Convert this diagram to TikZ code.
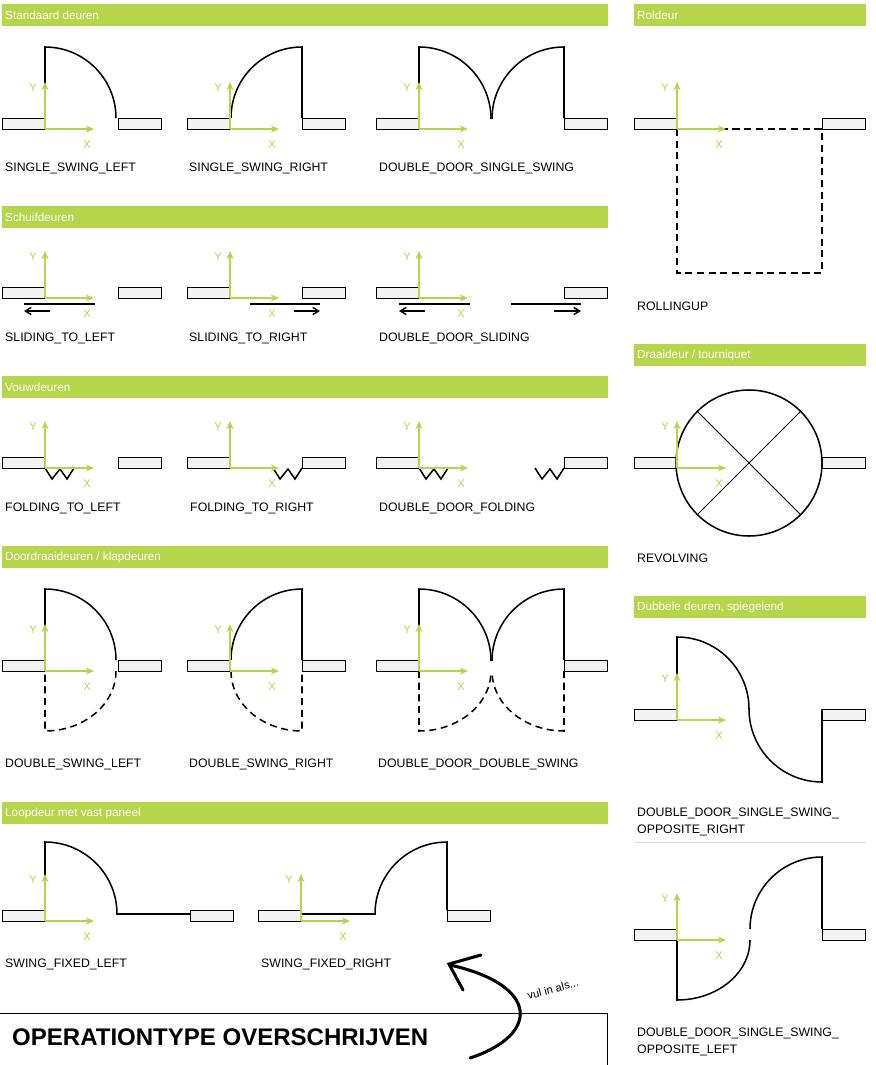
\documentclass[tikz,border=0pt]{standalone}
\usepackage{fontspec}
\setmainfont{Liberation Sans}
\usetikzlibrary{arrows.meta}
\definecolor{limegreen}{HTML}{B5D64A}
\definecolor{wallgrey}{HTML}{F2F2F2}
\tikzset{
  wall/.style={draw=black,fill=wallgrey,line width=0.8pt},
  door/.style={draw=black,line width=1.3pt},
  swing/.style={door,dash pattern=on 6pt off 4pt},
  axis/.style={draw=limegreen,line width=1.7pt,-{Stealth[length=7pt,width=6pt]}},
  axlabel/.style={text=limegreen,font=\fontsize{9.5}{10}\selectfont},
  header/.style={fill=limegreen},
  headtext/.style={anchor=west,text=white,font=\fontsize{10}{11}\selectfont,inner sep=0pt},
  type label/.style={anchor=west,font=\fontsize{10.5}{12.5}\selectfont,inner sep=0pt,align=left},
  move/.style={draw=black,line width=1.2pt,-{Straight Barb[length=5pt,width=6pt]}}
}
% wall piece from x1 to x2 with top y
\newcommand{\wallpiece}[3]{\draw[wall] (#1,#3) rectangle (#2,#3+11);}
% coordinate axes at origin
\newcommand{\axes}[2]{%
  \draw[axis] (#1,#2) -- (#1,#2-47);
  \draw[axis] (#1,#2) -- (#1+49,#2);
  \node[axlabel] at (#1-12,#2-41) {Y};
  \node[axlabel] at (#1+42,#2+16) {X};}
\begin{document}
\begin{tikzpicture}[x=0.03cm,y=-0.03cm]
\useasboundingbox (0,0) rectangle (876,1065);

% headers
\fill[header] (2,4) rectangle (608,26);     \node[headtext] (h1) at (5,15) {Standaard deuren};
\fill[header] (2,206) rectangle (608,228);  \node[headtext] (h2) at (5,217) {Schuifdeuren};
\fill[header] (2,376) rectangle (608,398);  \node[headtext] (h3) at (5,387) {Vouwdeuren};
\fill[header] (2,546) rectangle (608,568);  \node[headtext] (h4) at (5,557) {Doordraaideuren / klapdeuren};
\fill[header] (2,802) rectangle (608,824);  \node[headtext] (h5) at (5,813) {Loopdeur met vast paneel};
\fill[header] (634,4) rectangle (866,26);   \node[headtext] (h6) at (637,15) {Roldeur};
\fill[header] (634,344) rectangle (866,366);\node[headtext] (h7) at (637,355) {Draaideur / tourniquet};
\fill[header] (634,596) rectangle (866,618);\node[headtext] (h8) at (637,607) {Dubbele deuren, spiegelend};
\draw[black!15] (634,842) -- (866,842);

% standaard deuren
\wallpiece{2}{45}{118} \wallpiece{118}{161}{118}
\draw[door] (45,118) -- (45,47) arc (-90:0:71);
\axes{45}{129}
\wallpiece{187}{230}{118} \wallpiece{302}{345}{118}
\draw[door] (302,118) -- (302,47) arc (-90:-180:71);
\axes{230}{129}
\wallpiece{376}{419}{118} \wallpiece{564}{607}{118}
\draw[door] (419,118) -- (419,47) arc (-90:0:72);
\draw[door] (564,118) -- (564,47) arc (-90:-180:72);
\axes{419}{129}
\node[type label] (ssl) at (5,168) {SINGLE\_SWING\_LEFT};
\node[type label] (ssr) at (189,168) {SINGLE\_SWING\_RIGHT};
\node[type label] (ddss) at (379,168) {DOUBLE\_DOOR\_SINGLE\_SWING};

% schuifdeuren
\wallpiece{2}{45}{287} \wallpiece{118}{161}{287}
\draw[door] (24,304) -- (95,304);
\draw[move] (50,311) -- (24,311);
\axes{45}{298}
\wallpiece{187}{230}{287} \wallpiece{302}{345}{287}
\draw[door] (250,304) -- (320,304);
\draw[move] (294,311) -- (320,311);
\axes{230}{298}
\wallpiece{376}{419}{287} \wallpiece{564}{607}{287}
\draw[door] (399,304) -- (470,304);
\draw[move] (425,311) -- (399,311);
\draw[door] (511,304) -- (581,304);
\draw[move] (554,311) -- (581,311);
\axes{419}{298}
\node[type label] (stl) at (5,338) {SLIDING\_TO\_LEFT};
\node[type label] (str) at (189,338) {SLIDING\_TO\_RIGHT};
\node[type label] (dds) at (379,338) {DOUBLE\_DOOR\_SLIDING};

% vouwdeuren
\wallpiece{2}{45}{457} \wallpiece{118}{161}{457}
\draw[door] (45,468) -- (52,479) -- (60,469) -- (67,479) -- (74,468);
\axes{45}{468}
\wallpiece{187}{230}{457} \wallpiece{302}{345}{457}
\draw[door] (273,468) -- (280,479) -- (288,469) -- (295,479) -- (302,468);
\axes{230}{468}
\wallpiece{376}{419}{457} \wallpiece{564}{607}{457}
\draw[door] (419,468) -- (426,479) -- (434,469) -- (441,479) -- (448,468);
\draw[door] (535,468) -- (542,479) -- (550,469) -- (557,479) -- (564,468);
\axes{419}{468}
\node[type label] (ftl) at (5,508) {FOLDING\_TO\_LEFT};
\node[type label] (ftr) at (190,508) {FOLDING\_TO\_RIGHT};
\node[type label] (ddf) at (379,508) {DOUBLE\_DOOR\_FOLDING};

% doordraaideuren
\wallpiece{2}{45}{660} \wallpiece{118}{161}{660}
\draw[door] (45,660) -- (45,589) arc (-90:0:71);
\draw[swing] (116,671) arc[start angle=0,end angle=90,x radius=71,y radius=60] -- (45,671);
\axes{45}{671}
\wallpiece{187}{230}{660} \wallpiece{302}{345}{660}
\draw[door] (302,660) -- (302,589) arc (-90:-180:71);
\draw[swing] (231,671) arc[start angle=180,end angle=90,x radius=71,y radius=60] -- (302,671);
\axes{230}{671}
\wallpiece{376}{419}{660} \wallpiece{564}{607}{660}
\draw[door] (419,660) -- (419,589) arc (-90:0:72);
\draw[door] (564,660) -- (564,589) arc (-90:-180:72);
\draw[swing] (419,671) -- (419,731) arc[start angle=90,end angle=0,x radius=72,y radius=60];
\draw[swing] (564,671) -- (564,731) arc[start angle=90,end angle=180,x radius=72,y radius=60];
\axes{419}{671}
\node[type label] (dsl) at (5,764) {DOUBLE\_SWING\_LEFT};
\node[type label] (dsr) at (189,764) {DOUBLE\_SWING\_RIGHT};
\node[type label] (ddds) at (378,764) {DOUBLE\_DOOR\_DOUBLE\_SWING};

% loopdeur met vast paneel
\wallpiece{2}{45}{910} \wallpiece{190}{233}{910}
\draw[door] (45,910) -- (45,842) arc (-90:0:72) -- (190,914);
\axes{45}{921}
\wallpiece{258}{301}{910} \wallpiece{447}{490}{910}
\draw[door] (301,914) -- (375,914) arc (180:270:72) -- (447,910);
\axes{301}{921}
\node[type label] (sfl) at (5,964) {SWING\_FIXED\_LEFT};
\node[type label] (sfr) at (261,964) {SWING\_FIXED\_RIGHT};

% roldeur
\wallpiece{634}{677}{118} \wallpiece{822}{865}{118}
\draw[swing] (677,129) -- (677,273) -- (822,273) -- (822,129) -- cycle;
\axes{677}{129}
\node[type label] (rol) at (637,306) {ROLLINGUP};

% draaideur
\wallpiece{634}{677}{457} \wallpiece{822}{865}{457}
\draw[door] (749,463) circle (73);
\draw[door,line width=0.8pt] (697,411) -- (801,515);
\draw[door,line width=0.8pt] (801,411) -- (697,515);
\axes{677}{468}
\node[type label] (rev) at (637,558) {REVOLVING};

% spiegelend
\wallpiece{634}{677}{709} \wallpiece{822}{865}{709}
\draw[door] (677,709) -- (677,637) arc (-90:0:72) arc (180:90:73) -- (822,709);
\axes{677}{720}
\node[type label,align=left] (ddor) at (637,822) {DOUBLE\_DOOR\_SINGLE\_SWING\_\\[2pt]OPPOSITE\_RIGHT};
\wallpiece{634}{677}{929} \wallpiece{822}{865}{929}
\draw[door] (822,929) -- (822,857) arc (-90:-180:72);
\draw[door] (750,940) arc[start angle=0,end angle=90,x radius=73,y radius=60] -- (677,940);
\axes{677}{940}
\node[type label,align=left] (ddol) at (637,1042) {DOUBLE\_DOOR\_SINGLE\_SWING\_\\[2pt]OPPOSITE\_LEFT};

% overschrijven
\draw[line width=0.8pt] (0,1013) -- (607,1013) -- (607,1065);
\node[anchor=west,inner sep=0pt,font=\bfseries\fontsize{20.5}{23}\selectfont] (ot) at (12,1037) {OPERATIONTYPE OVERSCHRIJVEN};
\draw[line width=2.6pt,line cap=round] (470,1058) .. controls (540,1035) and (540,985) .. (450,965);
\draw[line width=2.6pt,line cap=round] (481,955) -- (449,964) -- (463,990);
\node[rotate=15,font=\fontsize{9.5}{10}\selectfont] (hint) at (553,989) {vul in als...};
\end{tikzpicture}
\end{document}
